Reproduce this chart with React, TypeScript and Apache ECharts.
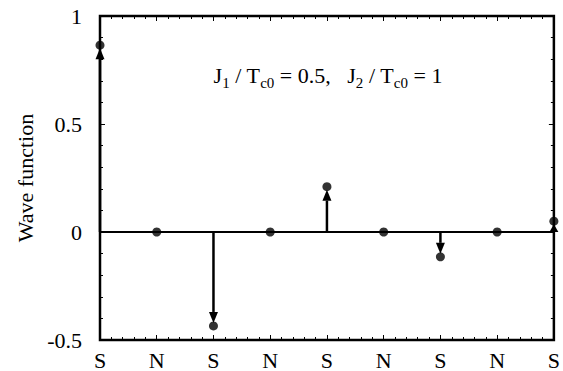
import React, { useEffect, useRef } from "react";
import * as echarts from "echarts";

const categories = ["S", "N", "S", "N", "S", "N", "S", "N", "S"];
const waveValues = [0.865, 0, -0.435, 0, 0.21, 0, -0.115, 0, 0.05];
const yTicks = [-0.5, 0, 0.5, 1];

const FONT = "Liberation Serif";

export default function App() {
  const ref = useRef<HTMLDivElement>(null);
  useEffect(() => {
    document.body.style.margin = "0";
    if (!ref.current) return;
    const chart = echarts.init(ref.current, null, { renderer: "svg" });
    const points = waveValues.map((v, i) => [i, v]);
    const tick = { show: true, inside: true, length: 5, lineStyle: { color: "#000", width: 1 } };
    const minor = { show: true, splitNumber: 5, length: 3, lineStyle: { color: "#000", width: 1 } };
    const option: any = {
      animation: false,
      backgroundColor: "#ffffff",
      grid: {
        left: 100,
        right: 6,
        top: 16,
        bottom: 31,
        show: true,
        borderColor: "#000",
        borderWidth: 2.5,
        backgroundColor: "transparent",
      },
      xAxis: [
        {
          type: "value",
          min: 0,
          max: categories.length - 1,
          interval: 1,
          axisLine: { show: false, onZero: false },
          axisTick: tick,
          minorTick: minor,
          splitLine: { show: false },
          axisLabel: {
            margin: 9,
            color: "#000",
            fontFamily: FONT,
            fontSize: 22,
            formatter: (val: number) => categories[Math.round(val)] ?? "",
          },
        },
        {
          type: "value",
          position: "top",
          min: 0,
          max: categories.length - 1,
          interval: 1,
          axisLine: { show: false, onZero: false },
          axisTick: tick,
          minorTick: minor,
          splitLine: { show: false },
          axisLabel: { show: false },
        },
      ],
      yAxis: [
        {
          type: "value",
          min: yTicks[0],
          max: yTicks[yTicks.length - 1],
          interval: 0.5,
          name: "Wave function",
          nameLocation: "middle",
          nameGap: 64,
          nameTextStyle: { color: "#000", fontFamily: FONT, fontSize: 22 },
          axisLine: { show: false, onZero: false },
          axisTick: tick,
          minorTick: minor,
          splitLine: { show: false },
          axisLabel: {
            margin: 18,
            color: "#000",
            fontFamily: FONT,
            fontSize: 22,
            formatter: (v: number) => String(v),
          },
        },
        {
          type: "value",
          position: "right",
          min: yTicks[0],
          max: yTicks[yTicks.length - 1],
          interval: 0.5,
          axisLine: { show: false, onZero: false },
          axisTick: tick,
          minorTick: minor,
          splitLine: { show: false },
          axisLabel: { show: false },
        },
      ],
      graphic: [
        {
          type: "text",
          x: 328,
          y: 75,
          style: {
            fill: "#000",
            align: "center",
            verticalAlign: "middle",
            rich: {
              a: { fontFamily: FONT, fontSize: 22, fill: "#000", color: "#000", lineHeight: 26 },
              s: { fontFamily: FONT, fontSize: 15, fill: "#000", color: "#000", lineHeight: 26, padding: [15, 0, 0, 0] },
            },
            text:
              "{a|J}{s|1}{a| / T}{s|c0}{a| = 0.5,   J}{s|2}{a| / T}{s|c0}{a| = 1}",
          },
        },
      ],
      series: [
        {
          type: "line",
          data: categories.map((_, i) => [i, 0]),
          symbol: "none",
          lineStyle: { color: "#000", width: 2 },
          z: 2,
        },
        {
          type: "custom",
          data: points,
          z: 3,
          renderItem: (params: any, api: any) => {
            const x = api.value(0);
            const v = api.value(1);
            if (v === 0) return null;
            const p0 = api.coord([x, 0]);
            const p1 = api.coord([x, v]);
            const dir = p1[1] < p0[1] ? -1 : 1;
            const tipY = p1[1] - dir * 3;
            let baseY = tipY - dir * 11;
            if (dir < 0 && baseY > p0[1]) baseY = p0[1];
            if (dir > 0 && baseY < p0[1]) baseY = p0[1];
            const hw = 4.5;
            return {
              type: "group",
              children: [
                {
                  type: "line",
                  shape: { x1: p0[0], y1: p0[1], x2: p0[0], y2: baseY },
                  style: { stroke: "#000", lineWidth: 2.5 },
                },
                {
                  type: "polygon",
                  shape: {
                    points: [
                      [p0[0], tipY],
                      [p0[0] - hw, baseY],
                      [p0[0] + hw, baseY],
                    ],
                  },
                  style: { fill: "#000" },
                },
              ],
            };
          },
        },
        {
          type: "scatter",
          data: points,
          symbol: "circle",
          symbolSize: 9,
          itemStyle: { color: "#000" },
          z: 4,
        },
      ],
    };
    chart.setOption(option);
    return () => chart.dispose();
  }, []);
  return <div ref={ref} style={{ width: 563, height: 371 }} />;
}
